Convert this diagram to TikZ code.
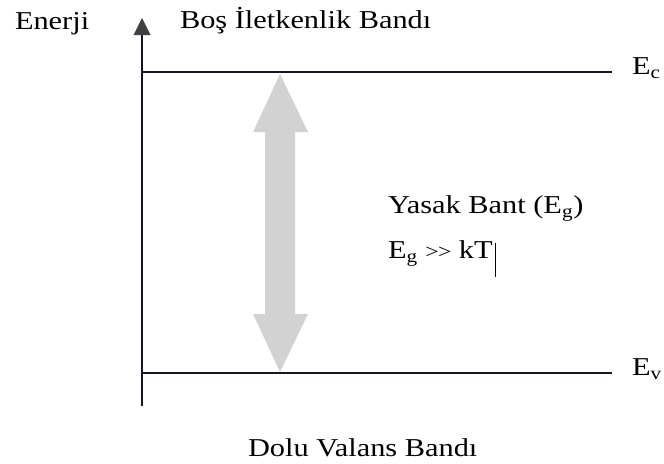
\documentclass[tikz,border=0pt]{standalone}
\usepackage{fontspec}
\setmainfont{Liberation Serif}[FakeStretch=1.18]
\usetikzlibrary{arrows.meta}
\definecolor{lineblk}{HTML}{15152A}
\definecolor{headgray}{HTML}{404040}
\definecolor{bandgray}{HTML}{D2D2D2}
\tikzset{
  lbl/.style={anchor=base west, inner sep=0pt, outer sep=0pt, text=black,
    font=\fontsize{19.3}{23}\selectfont},
  level/.style={draw=lineblk, line width=1.6pt},
  axisline/.style={draw=lineblk, line width=1.6pt},
}
\begin{document}
\begin{tikzpicture}[x=0.75pt, y=-0.75pt]
\useasboundingbox (0,0) rectangle (664,464);
% coordinates
\coordinate (axbot) at (142,406);
\coordinate (axtop) at (142,34);
\coordinate (ecL) at (142,72);
\coordinate (ecR) at (612,72);
\coordinate (evL) at (142,373);
\coordinate (evR) at (612,373);
% axis
\draw[axisline] (axbot) -- (axtop);
\fill[headgray] (142,18) coordinate (axtip) -- (133.5,35) -- (150.5,35) -- cycle;
% levels
\draw[level] (ecL) -- (ecR);
\draw[level] (evL) -- (evR);
% double arrow (band gap)
\fill[bandgray] (280,74) -- (308,132) -- (295,132) -- (295,314) -- (308,314)
  -- (280,372) -- (253,314) -- (265,314) -- (265,132) -- (253,132) -- cycle;
% labels
\node[lbl] (enerji) at (15,29) {Enerji};
\node[lbl] (bos) at (180,28) {Boş İletkenlik Bandı};
\node[lbl] (ec) at (632,74) {E\textsubscript{c}};
\node[lbl] (ev) at (632,375) {E\textsubscript{v}};
\node[lbl] (yasak) at (388,213) {Yasak Bant (E\textsubscript{g})};
\node[lbl] (eg) at (388,258) {E\textsubscript{g} {\fontsize{15}{18}\selectfont >\kern-0.5pt\relax>} kT};
\node[lbl] (dolu) at (248,456) {Dolu Valans Bandı};
% text cursor
\draw[black, line width=0.9pt] (eg.base east) ++(3,-15) coordinate (curT) -- ++(0,34) coordinate (curB);
\end{tikzpicture}
\end{document}
